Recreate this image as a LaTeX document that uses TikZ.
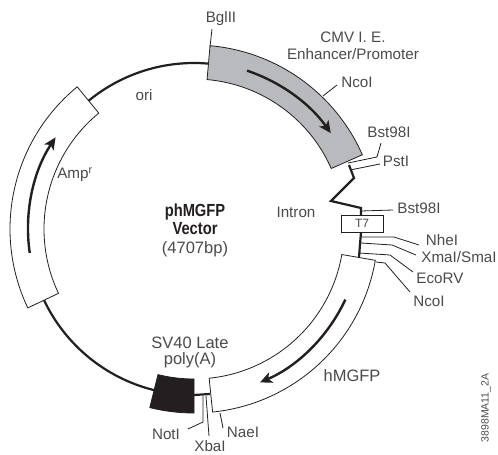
\documentclass[tikz,border=0pt]{standalone}
\usepackage{fontspec}
\setmainfont{Liberation Sans}
\usetikzlibrary{arrows.meta,calc}
\definecolor{bandgray}{HTML}{B9BABD}
\definecolor{ink}{HTML}{231F20}
\definecolor{labelgray}{HTML}{4A4A4A}
\tikzset{
  x=1pt,y=1pt,
  lab/.style={inner sep=0pt,text=labelgray,font=\fontsize{15.2}{15.2}\selectfont},
  biglab/.style={inner sep=0pt,text=labelgray,font=\fontsize{16.5}{16.5}\selectfont},
  boldlab/.style={inner sep=0pt,text=ink,font=\fontsize{17.5}{17.5}\selectfont\bfseries},
  backbone/.style={draw=ink,line width=2.2pt},
  band/.style={draw=ink,line width=0.8pt},
  leader/.style={draw=ink,line width=0.8pt},
  dirarrow/.style={draw=ink,line width=2.4pt,-{Stealth[length=12pt,width=11pt,inset=3pt]}}
}
\newcommand{\bandarc}[3]{% start angle, end angle, fill
  \path[band,fill=#3] ($(194,-229)+(#1:184)$) arc[start angle=#1,end angle=#2,radius=184]
    -- ($(194,-229)+(#2:150)$) arc[start angle=#2,end angle=#1,radius=150] -- cycle;}
\begin{document}
\begin{tikzpicture}
\useasboundingbox (0,0) rectangle (498,-455);
\coordinate (c) at (194,-229);
% backbone arcs
\draw[backbone] ($(c)+(85:166)$) arc[start angle=85,end angle=129.4,radius=166];
\draw[backbone] ($(c)+(205.4:166)$) arc[start angle=205.4,end angle=256.2,radius=166];
\coordinate (svend) at (194,-395);
\coordinate (gfpstart) at (210,-394);
\draw[backbone] (svend) -- (gfpstart);
% intron and T7 backbone
\coordinate (i1) at (349,-165);
\coordinate (i2) at (354,-178);
\coordinate (i3) at (331,-201);
\coordinate (i4) at (361,-208);
\coordinate (i5) at (361,-215);
\coordinate (i6) at (361,-232);
\coordinate (i7) at (359,-257);
\draw[backbone,line join=miter] (i1) -- (i2) -- (i3) -- (i4) -- (i5);
\draw[backbone] (i6) -- (i7);
% feature bands
\bandarc{85}{23.8}{bandgray}
\bandarc{129.4}{205.4}{white}
\bandarc{-9.8}{-84.2}{white}
\bandarc{-103.9}{-90}{ink}
% direction arrows
\draw[dirarrow] ($(c)+(71.5:167)$) arc[start angle=71.5,end angle=35,radius=167];
\draw[dirarrow] ($(c)+(188.3:166)$) arc[start angle=188.3,end angle=146.5,radius=166];
\draw[dirarrow] ($(c)+(-25:167)$) arc[start angle=-25,end angle=-66.7,radius=167];
% T7 box
\node[draw=ink,line width=0.8pt,fill=white,minimum width=42pt,minimum height=17pt,inner sep=0pt,text=labelgray,font=\fontsize{12}{12}\selectfont] (t7) at (362,-223.5) {T7};
% labels
\node[lab] (bgl) at (221,-19) {BglII};
\node[lab] (cmv) at (353,-37) {CMV I. E.};
\node[lab] (enh) at (353,-54) {Enhancer/Promoter};
\node[lab] (nco1) at (357,-82) {NcoI};
\node[lab] (bst1) at (389,-132) {Bst98I};
\node[lab] (pst) at (396,-161) {PstI};
\node[lab] (intron) at (296,-212) {Intron};
\node[lab] (bst2) at (419,-208) {Bst98I};
\node[lab] (nhe) at (442,-240) {NheI};
\node[lab] (xma) at (459,-257) {XmaI/SmaI};
\node[lab] (eco) at (440,-278) {EcoRV};
\node[lab] (nco2) at (429,-301) {NcoI};
\node[biglab] (gfp) at (352,-376) {hMGFP};
\node[lab,rotate=90,font=\fontsize{10.5}{10.5}\selectfont] (code) at (486,-408) {3898MA11\_2A};
\node[biglab] (sv) at (190,-343) {SV40 Late};
\node[biglab] (poly) at (190,-360) {poly(A)};
\node[lab] (not) at (166,-434) {NotI};
\node[lab] (xba) at (210,-446) {XbaI};
\node[lab] (nae) at (243,-432) {NaeI};
\node[lab] (amp) at (75,-175) {Amp\textsuperscript{r}};
\node[lab] (ori) at (144,-95) {ori};
\node[boldlab] (ph) at (195,-212) {\scalebox{0.84}[1]{phMGFP}};
\node[boldlab] (vec) at (195,-229) {\scalebox{0.84}[1]{Vector}};
\node[biglab] (bp) at (195,-249) {(4707bp)};
% leader lines
\coordinate (bgla) at (210,-47);  \coordinate (bglb) at (212,-29);
\coordinate (n1a) at (323,-96);   \coordinate (n1b) at (337,-85);
\coordinate (b1a) at (348,-163);  \coordinate (b1b) at (377,-157); \coordinate (b1c) at (381,-143);
\coordinate (pa) at (350,-170);   \coordinate (pb) at (380,-164);
\coordinate (b2a) at (361,-211);  \coordinate (b2b) at (393,-210);
\coordinate (na) at (361,-237);   \coordinate (nb) at (394,-237);  \coordinate (nc) at (419,-245);
\coordinate (xa) at (361,-243);   \coordinate (xb) at (392,-245);  \coordinate (xc) at (416,-255);
\coordinate (ea) at (359,-253);   \coordinate (eb) at (390,-255);  \coordinate (ec) at (413,-272);
\coordinate (n2a) at (376,-262);  \coordinate (n2b) at (385,-263); \coordinate (n2c) at (410,-292);
\coordinate (noa) at (203,-396);  \coordinate (nob) at (203,-422); \coordinate (noc) at (188,-429);
\coordinate (xba1) at (206,-396); \coordinate (xba2) at (209,-436);
\coordinate (naa) at (220,-413);  \coordinate (nab) at (223,-428);
\draw[leader] (bgla) -- (bglb);
\draw[leader] (n1a) -- (n1b);
\draw[leader] (b1a) -- (b1b) -- (b1c);
\draw[leader] (pa) -- (pb);
\draw[leader] (b2a) -- (b2b);
\draw[leader] (na) -- (nb) -- (nc);
\draw[leader] (xa) -- (xb) -- (xc);
\draw[leader] (ea) -- (eb) -- (ec);
\draw[leader] (n2a) -- (n2b) -- (n2c);
\draw[leader] (noa) -- (nob) -- (noc);
\draw[leader] (xba1) -- (xba2);
\draw[leader] (naa) -- (nab);
\end{tikzpicture}
\end{document}
